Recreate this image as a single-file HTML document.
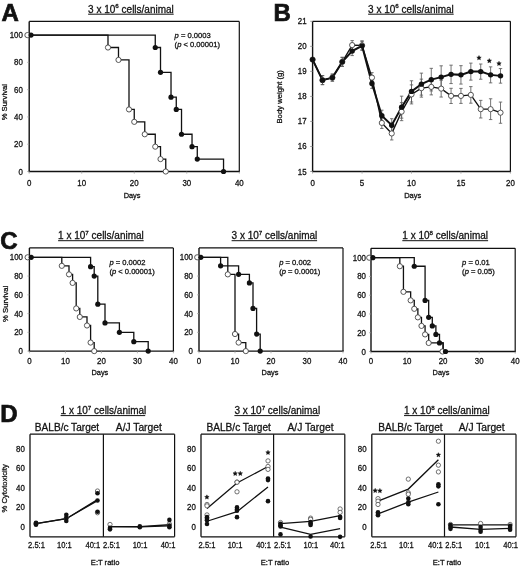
<!DOCTYPE html>
<html><head><meta charset="utf-8"><style>html,body{margin:0;padding:0;background:#fff;width:520px;height:567px;overflow:hidden}</style></head><body>
<svg width="520" height="567" viewBox="0 0 520 567" style="display:block;will-change:transform">
<rect width="520" height="567" fill="#fff"/>
<g font-family='"Liberation Sans", sans-serif' fill="#111">
<style>text{stroke:#111;stroke-width:0.28px;paint-order:stroke}</style>
<text x="1.50" y="20.60" font-size="24" font-weight="bold" style="stroke-width:0.7px">A</text>
<text x="88.10" y="12.80" font-size="10">3 x 10<tspan font-size="6.20" dy="-4.4">6</tspan><tspan dy="4.4"> cells/animal</tspan></text>
<line x1="88.10" y1="14.20" x2="173.70" y2="14.20" stroke="#111" stroke-width="1.0" />
<polyline points="29.20,35.10 107.99,35.10 107.99,47.51 118.49,47.51 118.49,59.92 129.00,59.92 129.00,109.44 134.25,109.44 134.25,121.85 144.76,121.85 144.76,134.26 155.26,134.26 155.26,146.68 160.51,146.68 160.51,159.09 165.76,159.09 165.76,171.50" fill="none" stroke="#111" stroke-width="1.3" stroke-linejoin="miter"/>
<polyline points="29.20,35.10 155.26,35.10 155.26,47.51 160.51,47.51 160.51,72.34 171.02,72.34 171.02,97.16 176.27,97.16 176.27,109.44 181.52,109.44 181.52,134.26 192.03,134.26 192.03,146.68 197.28,146.68 197.28,159.09 223.54,159.09 223.54,171.50" fill="none" stroke="#111" stroke-width="1.3" stroke-linejoin="miter"/>
<line x1="29.20" y1="21.46" x2="29.20" y2="171.50" stroke="#111" stroke-width="1.4" />
<line x1="28.50" y1="171.50" x2="240.00" y2="171.50" stroke="#111" stroke-width="1.4" />
<line x1="29.20" y1="21.46" x2="239.30" y2="21.46" stroke="#111" stroke-width="1.2" />
<line x1="239.30" y1="21.46" x2="239.30" y2="171.50" stroke="#111" stroke-width="1.2" />
<line x1="27.20" y1="171.50" x2="29.20" y2="171.50" stroke="#999" stroke-width="0.7" />
<text transform="translate(22.80,174.50) scale(0.93,1)" font-size="8.5" text-anchor="end">0</text>
<line x1="27.20" y1="144.22" x2="29.20" y2="144.22" stroke="#999" stroke-width="0.7" />
<text transform="translate(22.80,147.22) scale(0.93,1)" font-size="8.5" text-anchor="end">20</text>
<line x1="27.20" y1="116.94" x2="29.20" y2="116.94" stroke="#999" stroke-width="0.7" />
<text transform="translate(22.80,119.94) scale(0.93,1)" font-size="8.5" text-anchor="end">40</text>
<line x1="27.20" y1="89.66" x2="29.20" y2="89.66" stroke="#999" stroke-width="0.7" />
<text transform="translate(22.80,92.66) scale(0.93,1)" font-size="8.5" text-anchor="end">60</text>
<line x1="27.20" y1="62.38" x2="29.20" y2="62.38" stroke="#999" stroke-width="0.7" />
<text transform="translate(22.80,65.38) scale(0.93,1)" font-size="8.5" text-anchor="end">80</text>
<line x1="27.20" y1="35.10" x2="29.20" y2="35.10" stroke="#999" stroke-width="0.7" />
<text transform="translate(22.80,38.10) scale(0.93,1)" font-size="8.5" text-anchor="end">100</text>
<line x1="29.20" y1="171.50" x2="29.20" y2="173.70" stroke="#999" stroke-width="0.7" />
<text transform="translate(29.20,185.60) scale(0.93,1)" font-size="8.5" text-anchor="middle">0</text>
<line x1="81.72" y1="171.50" x2="81.72" y2="173.70" stroke="#999" stroke-width="0.7" />
<text transform="translate(81.72,185.60) scale(0.93,1)" font-size="8.5" text-anchor="middle">10</text>
<line x1="134.25" y1="171.50" x2="134.25" y2="173.70" stroke="#999" stroke-width="0.7" />
<text transform="translate(134.25,185.60) scale(0.93,1)" font-size="8.5" text-anchor="middle">20</text>
<line x1="186.78" y1="171.50" x2="186.78" y2="173.70" stroke="#999" stroke-width="0.7" />
<text transform="translate(186.78,185.60) scale(0.93,1)" font-size="8.5" text-anchor="middle">30</text>
<line x1="239.30" y1="171.50" x2="239.30" y2="173.70" stroke="#999" stroke-width="0.7" />
<text transform="translate(239.30,185.60) scale(0.93,1)" font-size="8.5" text-anchor="middle">40</text>
<circle cx="27.40" cy="35.10" r="2.6" fill="#fff" stroke="#444" stroke-width="0.9"/>
<circle cx="107.99" cy="47.51" r="2.6" fill="#fff" stroke="#444" stroke-width="0.9"/>
<circle cx="118.49" cy="59.92" r="2.6" fill="#fff" stroke="#444" stroke-width="0.9"/>
<circle cx="129.00" cy="109.44" r="2.6" fill="#fff" stroke="#444" stroke-width="0.9"/>
<circle cx="134.25" cy="121.85" r="2.6" fill="#fff" stroke="#444" stroke-width="0.9"/>
<circle cx="144.76" cy="134.26" r="2.6" fill="#fff" stroke="#444" stroke-width="0.9"/>
<circle cx="155.26" cy="146.68" r="2.6" fill="#fff" stroke="#444" stroke-width="0.9"/>
<circle cx="160.51" cy="159.09" r="2.6" fill="#fff" stroke="#444" stroke-width="0.9"/>
<circle cx="165.76" cy="171.50" r="2.6" fill="#fff" stroke="#444" stroke-width="0.9"/>
<circle cx="31.00" cy="35.10" r="2.6" fill="#111"/>
<circle cx="155.26" cy="47.51" r="2.6" fill="#111"/>
<circle cx="160.51" cy="72.34" r="2.6" fill="#111"/>
<circle cx="171.02" cy="97.16" r="2.6" fill="#111"/>
<circle cx="176.27" cy="109.44" r="2.6" fill="#111"/>
<circle cx="181.52" cy="134.26" r="2.6" fill="#111"/>
<circle cx="192.03" cy="146.68" r="2.6" fill="#111"/>
<circle cx="197.28" cy="159.09" r="2.6" fill="#111"/>
<circle cx="223.54" cy="171.50" r="2.6" fill="#111"/>
<text x="174.6" y="38.3" font-size="7.6"><tspan font-style="italic">p</tspan> = 0.0003</text>
<text x="174.6" y="47.099999999999994" font-size="7.6">(<tspan font-style="italic">p</tspan> &lt; 0.00001)</text>
<text x="132.10" y="197.60" font-size="7.4" text-anchor="middle" font-weight="normal" >Days</text>
<text x="0" y="0" font-size="7.7" text-anchor="middle" transform="translate(6.90,102.20) rotate(-90)">% Survival</text>
<text x="273.50" y="20.60" font-size="24" font-weight="bold" style="stroke-width:0.7px">B</text>
<text x="368.10" y="12.80" font-size="10">3 x 10<tspan font-size="6.20" dy="-4.4">6</tspan><tspan dy="4.4"> cells/animal</tspan></text>
<line x1="368.10" y1="14.20" x2="453.70" y2="14.20" stroke="#111" stroke-width="1.0" />
<line x1="322.49" y1="75.63" x2="322.49" y2="84.63" stroke="#5c5c5c" stroke-width="0.85" />
<line x1="320.79" y1="75.63" x2="324.19" y2="75.63" stroke="#5c5c5c" stroke-width="0.85" />
<line x1="320.79" y1="84.63" x2="324.19" y2="84.63" stroke="#5c5c5c" stroke-width="0.85" />
<line x1="322.49" y1="75.63" x2="322.49" y2="84.63" stroke="#5c5c5c" stroke-width="0.85" />
<line x1="320.79" y1="75.63" x2="324.19" y2="75.63" stroke="#5c5c5c" stroke-width="0.85" />
<line x1="320.79" y1="84.63" x2="324.19" y2="84.63" stroke="#5c5c5c" stroke-width="0.85" />
<line x1="332.38" y1="74.12" x2="332.38" y2="81.12" stroke="#5c5c5c" stroke-width="0.85" />
<line x1="330.68" y1="74.12" x2="334.08" y2="74.12" stroke="#5c5c5c" stroke-width="0.85" />
<line x1="330.68" y1="81.12" x2="334.08" y2="81.12" stroke="#5c5c5c" stroke-width="0.85" />
<line x1="332.38" y1="74.12" x2="332.38" y2="81.12" stroke="#5c5c5c" stroke-width="0.85" />
<line x1="330.68" y1="74.12" x2="334.08" y2="74.12" stroke="#5c5c5c" stroke-width="0.85" />
<line x1="330.68" y1="81.12" x2="334.08" y2="81.12" stroke="#5c5c5c" stroke-width="0.85" />
<line x1="342.27" y1="57.35" x2="342.27" y2="66.35" stroke="#5c5c5c" stroke-width="0.85" />
<line x1="340.57" y1="57.35" x2="343.97" y2="57.35" stroke="#5c5c5c" stroke-width="0.85" />
<line x1="340.57" y1="66.35" x2="343.97" y2="66.35" stroke="#5c5c5c" stroke-width="0.85" />
<line x1="342.27" y1="57.35" x2="342.27" y2="66.35" stroke="#5c5c5c" stroke-width="0.85" />
<line x1="340.57" y1="57.35" x2="343.97" y2="57.35" stroke="#5c5c5c" stroke-width="0.85" />
<line x1="340.57" y1="66.35" x2="343.97" y2="66.35" stroke="#5c5c5c" stroke-width="0.85" />
<line x1="352.16" y1="40.58" x2="352.16" y2="49.58" stroke="#5c5c5c" stroke-width="0.85" />
<line x1="350.46" y1="40.58" x2="353.86" y2="40.58" stroke="#5c5c5c" stroke-width="0.85" />
<line x1="350.46" y1="49.58" x2="353.86" y2="49.58" stroke="#5c5c5c" stroke-width="0.85" />
<line x1="352.16" y1="46.59" x2="352.16" y2="55.59" stroke="#5c5c5c" stroke-width="0.85" />
<line x1="350.46" y1="46.59" x2="353.86" y2="46.59" stroke="#5c5c5c" stroke-width="0.85" />
<line x1="350.46" y1="55.59" x2="353.86" y2="55.59" stroke="#5c5c5c" stroke-width="0.85" />
<line x1="362.05" y1="40.83" x2="362.05" y2="49.83" stroke="#5c5c5c" stroke-width="0.85" />
<line x1="360.35" y1="40.83" x2="363.75" y2="40.83" stroke="#5c5c5c" stroke-width="0.85" />
<line x1="360.35" y1="49.83" x2="363.75" y2="49.83" stroke="#5c5c5c" stroke-width="0.85" />
<line x1="362.05" y1="41.33" x2="362.05" y2="50.33" stroke="#5c5c5c" stroke-width="0.85" />
<line x1="360.35" y1="41.33" x2="363.75" y2="41.33" stroke="#5c5c5c" stroke-width="0.85" />
<line x1="360.35" y1="50.33" x2="363.75" y2="50.33" stroke="#5c5c5c" stroke-width="0.85" />
<line x1="371.94" y1="72.62" x2="371.94" y2="82.62" stroke="#5c5c5c" stroke-width="0.85" />
<line x1="370.24" y1="72.62" x2="373.64" y2="72.62" stroke="#5c5c5c" stroke-width="0.85" />
<line x1="370.24" y1="82.62" x2="373.64" y2="82.62" stroke="#5c5c5c" stroke-width="0.85" />
<line x1="371.94" y1="78.38" x2="371.94" y2="88.38" stroke="#5c5c5c" stroke-width="0.85" />
<line x1="370.24" y1="78.38" x2="373.64" y2="78.38" stroke="#5c5c5c" stroke-width="0.85" />
<line x1="370.24" y1="88.38" x2="373.64" y2="88.38" stroke="#5c5c5c" stroke-width="0.85" />
<line x1="381.83" y1="117.44" x2="381.83" y2="128.44" stroke="#5c5c5c" stroke-width="0.85" />
<line x1="380.13" y1="117.44" x2="383.53" y2="117.44" stroke="#5c5c5c" stroke-width="0.85" />
<line x1="380.13" y1="128.44" x2="383.53" y2="128.44" stroke="#5c5c5c" stroke-width="0.85" />
<line x1="381.83" y1="110.18" x2="381.83" y2="121.18" stroke="#5c5c5c" stroke-width="0.85" />
<line x1="380.13" y1="110.18" x2="383.53" y2="110.18" stroke="#5c5c5c" stroke-width="0.85" />
<line x1="380.13" y1="121.18" x2="383.53" y2="121.18" stroke="#5c5c5c" stroke-width="0.85" />
<line x1="391.72" y1="126.95" x2="391.72" y2="139.95" stroke="#5c5c5c" stroke-width="0.85" />
<line x1="390.02" y1="126.95" x2="393.42" y2="126.95" stroke="#5c5c5c" stroke-width="0.85" />
<line x1="390.02" y1="139.95" x2="393.42" y2="139.95" stroke="#5c5c5c" stroke-width="0.85" />
<line x1="391.72" y1="118.69" x2="391.72" y2="131.69" stroke="#5c5c5c" stroke-width="0.85" />
<line x1="390.02" y1="118.69" x2="393.42" y2="118.69" stroke="#5c5c5c" stroke-width="0.85" />
<line x1="390.02" y1="131.69" x2="393.42" y2="131.69" stroke="#5c5c5c" stroke-width="0.85" />
<line x1="401.61" y1="102.67" x2="401.61" y2="120.67" stroke="#5c5c5c" stroke-width="0.85" />
<line x1="399.91" y1="102.67" x2="403.31" y2="102.67" stroke="#5c5c5c" stroke-width="0.85" />
<line x1="399.91" y1="120.67" x2="403.31" y2="120.67" stroke="#5c5c5c" stroke-width="0.85" />
<line x1="401.61" y1="96.16" x2="401.61" y2="118.16" stroke="#5c5c5c" stroke-width="0.85" />
<line x1="399.91" y1="96.16" x2="403.31" y2="96.16" stroke="#5c5c5c" stroke-width="0.85" />
<line x1="399.91" y1="118.16" x2="403.31" y2="118.16" stroke="#5c5c5c" stroke-width="0.85" />
<line x1="411.50" y1="84.90" x2="411.50" y2="103.90" stroke="#5c5c5c" stroke-width="0.85" />
<line x1="409.80" y1="84.90" x2="413.20" y2="84.90" stroke="#5c5c5c" stroke-width="0.85" />
<line x1="409.80" y1="103.90" x2="413.20" y2="103.90" stroke="#5c5c5c" stroke-width="0.85" />
<line x1="411.50" y1="80.79" x2="411.50" y2="101.99" stroke="#5c5c5c" stroke-width="0.85" />
<line x1="409.80" y1="80.79" x2="413.20" y2="80.79" stroke="#5c5c5c" stroke-width="0.85" />
<line x1="409.80" y1="101.99" x2="413.20" y2="101.99" stroke="#5c5c5c" stroke-width="0.85" />
<line x1="421.39" y1="79.14" x2="421.39" y2="97.14" stroke="#5c5c5c" stroke-width="0.85" />
<line x1="419.69" y1="79.14" x2="423.09" y2="79.14" stroke="#5c5c5c" stroke-width="0.85" />
<line x1="419.69" y1="97.14" x2="423.09" y2="97.14" stroke="#5c5c5c" stroke-width="0.85" />
<line x1="421.39" y1="73.13" x2="421.39" y2="95.13" stroke="#5c5c5c" stroke-width="0.85" />
<line x1="419.69" y1="73.13" x2="423.09" y2="73.13" stroke="#5c5c5c" stroke-width="0.85" />
<line x1="419.69" y1="95.13" x2="423.09" y2="95.13" stroke="#5c5c5c" stroke-width="0.85" />
<line x1="431.28" y1="78.89" x2="431.28" y2="94.89" stroke="#5c5c5c" stroke-width="0.85" />
<line x1="429.58" y1="78.89" x2="432.98" y2="78.89" stroke="#5c5c5c" stroke-width="0.85" />
<line x1="429.58" y1="94.89" x2="432.98" y2="94.89" stroke="#5c5c5c" stroke-width="0.85" />
<line x1="431.28" y1="68.33" x2="431.28" y2="90.93" stroke="#5c5c5c" stroke-width="0.85" />
<line x1="429.58" y1="68.33" x2="432.98" y2="68.33" stroke="#5c5c5c" stroke-width="0.85" />
<line x1="429.58" y1="90.93" x2="432.98" y2="90.93" stroke="#5c5c5c" stroke-width="0.85" />
<line x1="441.17" y1="80.24" x2="441.17" y2="97.04" stroke="#5c5c5c" stroke-width="0.85" />
<line x1="439.47" y1="80.24" x2="442.87" y2="80.24" stroke="#5c5c5c" stroke-width="0.85" />
<line x1="439.47" y1="97.04" x2="442.87" y2="97.04" stroke="#5c5c5c" stroke-width="0.85" />
<line x1="441.17" y1="65.82" x2="441.17" y2="88.42" stroke="#5c5c5c" stroke-width="0.85" />
<line x1="439.47" y1="65.82" x2="442.87" y2="65.82" stroke="#5c5c5c" stroke-width="0.85" />
<line x1="439.47" y1="88.42" x2="442.87" y2="88.42" stroke="#5c5c5c" stroke-width="0.85" />
<line x1="451.06" y1="88.30" x2="451.06" y2="103.50" stroke="#5c5c5c" stroke-width="0.85" />
<line x1="449.36" y1="88.30" x2="452.76" y2="88.30" stroke="#5c5c5c" stroke-width="0.85" />
<line x1="449.36" y1="103.50" x2="452.76" y2="103.50" stroke="#5c5c5c" stroke-width="0.85" />
<line x1="451.06" y1="65.17" x2="451.06" y2="83.57" stroke="#5c5c5c" stroke-width="0.85" />
<line x1="449.36" y1="65.17" x2="452.76" y2="65.17" stroke="#5c5c5c" stroke-width="0.85" />
<line x1="449.36" y1="83.57" x2="452.76" y2="83.57" stroke="#5c5c5c" stroke-width="0.85" />
<line x1="460.95" y1="88.40" x2="460.95" y2="103.40" stroke="#5c5c5c" stroke-width="0.85" />
<line x1="459.25" y1="88.40" x2="462.65" y2="88.40" stroke="#5c5c5c" stroke-width="0.85" />
<line x1="459.25" y1="103.40" x2="462.65" y2="103.40" stroke="#5c5c5c" stroke-width="0.85" />
<line x1="460.95" y1="65.67" x2="460.95" y2="84.07" stroke="#5c5c5c" stroke-width="0.85" />
<line x1="459.25" y1="65.67" x2="462.65" y2="65.67" stroke="#5c5c5c" stroke-width="0.85" />
<line x1="459.25" y1="84.07" x2="462.65" y2="84.07" stroke="#5c5c5c" stroke-width="0.85" />
<line x1="470.84" y1="86.60" x2="470.84" y2="103.20" stroke="#5c5c5c" stroke-width="0.85" />
<line x1="469.14" y1="86.60" x2="472.54" y2="86.60" stroke="#5c5c5c" stroke-width="0.85" />
<line x1="469.14" y1="103.20" x2="472.54" y2="103.20" stroke="#5c5c5c" stroke-width="0.85" />
<line x1="470.84" y1="63.12" x2="470.84" y2="80.12" stroke="#5c5c5c" stroke-width="0.85" />
<line x1="469.14" y1="63.12" x2="472.54" y2="63.12" stroke="#5c5c5c" stroke-width="0.85" />
<line x1="469.14" y1="80.12" x2="472.54" y2="80.12" stroke="#5c5c5c" stroke-width="0.85" />
<line x1="480.73" y1="100.37" x2="480.73" y2="117.97" stroke="#5c5c5c" stroke-width="0.85" />
<line x1="479.03" y1="100.37" x2="482.43" y2="100.37" stroke="#5c5c5c" stroke-width="0.85" />
<line x1="479.03" y1="117.97" x2="482.43" y2="117.97" stroke="#5c5c5c" stroke-width="0.85" />
<line x1="480.73" y1="64.02" x2="480.73" y2="79.22" stroke="#5c5c5c" stroke-width="0.85" />
<line x1="479.03" y1="64.02" x2="482.43" y2="64.02" stroke="#5c5c5c" stroke-width="0.85" />
<line x1="479.03" y1="79.22" x2="482.43" y2="79.22" stroke="#5c5c5c" stroke-width="0.85" />
<line x1="490.62" y1="98.77" x2="490.62" y2="119.57" stroke="#5c5c5c" stroke-width="0.85" />
<line x1="488.92" y1="98.77" x2="492.32" y2="98.77" stroke="#5c5c5c" stroke-width="0.85" />
<line x1="488.92" y1="119.57" x2="492.32" y2="119.57" stroke="#5c5c5c" stroke-width="0.85" />
<line x1="490.62" y1="66.87" x2="490.62" y2="82.87" stroke="#5c5c5c" stroke-width="0.85" />
<line x1="488.92" y1="66.87" x2="492.32" y2="66.87" stroke="#5c5c5c" stroke-width="0.85" />
<line x1="488.92" y1="82.87" x2="492.32" y2="82.87" stroke="#5c5c5c" stroke-width="0.85" />
<line x1="500.51" y1="102.07" x2="500.51" y2="123.27" stroke="#5c5c5c" stroke-width="0.85" />
<line x1="498.81" y1="102.07" x2="502.21" y2="102.07" stroke="#5c5c5c" stroke-width="0.85" />
<line x1="498.81" y1="123.27" x2="502.21" y2="123.27" stroke="#5c5c5c" stroke-width="0.85" />
<line x1="500.51" y1="68.57" x2="500.51" y2="83.17" stroke="#5c5c5c" stroke-width="0.85" />
<line x1="498.81" y1="68.57" x2="502.21" y2="68.57" stroke="#5c5c5c" stroke-width="0.85" />
<line x1="498.81" y1="83.17" x2="502.21" y2="83.17" stroke="#5c5c5c" stroke-width="0.85" />
<polyline points="312.60,59.60 322.49,80.13 332.38,77.62 342.27,61.85 352.16,45.08 362.05,45.33 371.94,77.62 381.83,122.94 391.72,133.45 401.61,111.67 411.50,94.40 421.39,88.14 431.28,86.89 441.17,88.64 451.06,95.90 460.95,95.90 470.84,94.90 480.73,109.17 490.62,109.17 500.51,112.67" fill="none" stroke="#111" stroke-width="1.35" stroke-linejoin="miter"/>
<polyline points="312.60,59.60 322.49,80.13 332.38,77.62 342.27,61.85 352.16,51.09 362.05,45.83 371.94,83.38 381.83,115.68 391.72,125.19 401.61,107.16 411.50,91.39 421.39,84.13 431.28,79.63 441.17,77.12 451.06,74.37 460.95,74.87 470.84,71.62 480.73,71.62 490.62,74.87 500.51,75.87" fill="none" stroke="#111" stroke-width="2.0" stroke-linejoin="miter"/>
<circle cx="312.60" cy="59.60" r="2.6" fill="#fff" stroke="#444" stroke-width="0.9"/>
<circle cx="322.49" cy="80.13" r="2.6" fill="#fff" stroke="#444" stroke-width="0.9"/>
<circle cx="332.38" cy="77.62" r="2.6" fill="#fff" stroke="#444" stroke-width="0.9"/>
<circle cx="342.27" cy="61.85" r="2.6" fill="#fff" stroke="#444" stroke-width="0.9"/>
<circle cx="352.16" cy="45.08" r="2.6" fill="#fff" stroke="#444" stroke-width="0.9"/>
<circle cx="362.05" cy="45.33" r="2.6" fill="#fff" stroke="#444" stroke-width="0.9"/>
<circle cx="371.94" cy="77.62" r="2.6" fill="#fff" stroke="#444" stroke-width="0.9"/>
<circle cx="381.83" cy="122.94" r="2.6" fill="#fff" stroke="#444" stroke-width="0.9"/>
<circle cx="391.72" cy="133.45" r="2.6" fill="#fff" stroke="#444" stroke-width="0.9"/>
<circle cx="401.61" cy="111.67" r="2.6" fill="#fff" stroke="#444" stroke-width="0.9"/>
<circle cx="411.50" cy="94.40" r="2.6" fill="#fff" stroke="#444" stroke-width="0.9"/>
<circle cx="421.39" cy="88.14" r="2.6" fill="#fff" stroke="#444" stroke-width="0.9"/>
<circle cx="431.28" cy="86.89" r="2.6" fill="#fff" stroke="#444" stroke-width="0.9"/>
<circle cx="441.17" cy="88.64" r="2.6" fill="#fff" stroke="#444" stroke-width="0.9"/>
<circle cx="451.06" cy="95.90" r="2.6" fill="#fff" stroke="#444" stroke-width="0.9"/>
<circle cx="460.95" cy="95.90" r="2.6" fill="#fff" stroke="#444" stroke-width="0.9"/>
<circle cx="470.84" cy="94.90" r="2.6" fill="#fff" stroke="#444" stroke-width="0.9"/>
<circle cx="480.73" cy="109.17" r="2.6" fill="#fff" stroke="#444" stroke-width="0.9"/>
<circle cx="490.62" cy="109.17" r="2.6" fill="#fff" stroke="#444" stroke-width="0.9"/>
<circle cx="500.51" cy="112.67" r="2.6" fill="#fff" stroke="#444" stroke-width="0.9"/>
<circle cx="312.60" cy="59.60" r="2.7" fill="#111"/>
<circle cx="322.49" cy="80.13" r="2.7" fill="#111"/>
<circle cx="332.38" cy="77.62" r="2.7" fill="#111"/>
<circle cx="342.27" cy="61.85" r="2.7" fill="#111"/>
<circle cx="352.16" cy="51.09" r="2.7" fill="#111"/>
<circle cx="362.05" cy="45.83" r="2.7" fill="#111"/>
<circle cx="371.94" cy="83.38" r="2.7" fill="#111"/>
<circle cx="381.83" cy="115.68" r="2.7" fill="#111"/>
<circle cx="391.72" cy="125.19" r="2.7" fill="#111"/>
<circle cx="401.61" cy="107.16" r="2.7" fill="#111"/>
<circle cx="411.50" cy="91.39" r="2.7" fill="#111"/>
<circle cx="421.39" cy="84.13" r="2.7" fill="#111"/>
<circle cx="431.28" cy="79.63" r="2.7" fill="#111"/>
<circle cx="441.17" cy="77.12" r="2.7" fill="#111"/>
<circle cx="451.06" cy="74.37" r="2.7" fill="#111"/>
<circle cx="460.95" cy="74.87" r="2.7" fill="#111"/>
<circle cx="470.84" cy="71.62" r="2.7" fill="#111"/>
<circle cx="480.73" cy="71.62" r="2.7" fill="#111"/>
<circle cx="490.62" cy="74.87" r="2.7" fill="#111"/>
<circle cx="500.51" cy="75.87" r="2.7" fill="#111"/>
<line x1="312.60" y1="21.30" x2="312.60" y2="171.50" stroke="#111" stroke-width="1.4" />
<line x1="311.90" y1="171.50" x2="511.10" y2="171.50" stroke="#111" stroke-width="1.4" />
<line x1="312.60" y1="21.30" x2="510.40" y2="21.30" stroke="#111" stroke-width="1.2" />
<line x1="510.40" y1="21.30" x2="510.40" y2="171.50" stroke="#111" stroke-width="1.2" />
<line x1="310.20" y1="171.50" x2="312.60" y2="171.50" stroke="#888" stroke-width="0.8" />
<text transform="translate(306.60,174.50) scale(0.93,1)" font-size="8.5" text-anchor="end">15</text>
<line x1="310.20" y1="146.47" x2="312.60" y2="146.47" stroke="#888" stroke-width="0.8" />
<text transform="translate(306.60,149.47) scale(0.93,1)" font-size="8.5" text-anchor="end">16</text>
<line x1="310.20" y1="121.43" x2="312.60" y2="121.43" stroke="#888" stroke-width="0.8" />
<text transform="translate(306.60,124.43) scale(0.93,1)" font-size="8.5" text-anchor="end">17</text>
<line x1="310.20" y1="96.40" x2="312.60" y2="96.40" stroke="#888" stroke-width="0.8" />
<text transform="translate(306.60,99.40) scale(0.93,1)" font-size="8.5" text-anchor="end">18</text>
<line x1="310.20" y1="71.37" x2="312.60" y2="71.37" stroke="#888" stroke-width="0.8" />
<text transform="translate(306.60,74.37) scale(0.93,1)" font-size="8.5" text-anchor="end">19</text>
<line x1="310.20" y1="46.33" x2="312.60" y2="46.33" stroke="#888" stroke-width="0.8" />
<text transform="translate(306.60,49.33) scale(0.93,1)" font-size="8.5" text-anchor="end">20</text>
<line x1="310.20" y1="21.30" x2="312.60" y2="21.30" stroke="#888" stroke-width="0.8" />
<text transform="translate(306.60,24.30) scale(0.93,1)" font-size="8.5" text-anchor="end">21</text>
<line x1="312.60" y1="171.50" x2="312.60" y2="173.70" stroke="#999" stroke-width="0.7" />
<text transform="translate(312.60,185.60) scale(0.93,1)" font-size="8.5" text-anchor="middle">0</text>
<line x1="362.05" y1="171.50" x2="362.05" y2="173.70" stroke="#999" stroke-width="0.7" />
<text transform="translate(362.05,185.60) scale(0.93,1)" font-size="8.5" text-anchor="middle">5</text>
<line x1="411.50" y1="171.50" x2="411.50" y2="173.70" stroke="#999" stroke-width="0.7" />
<text transform="translate(411.50,185.60) scale(0.93,1)" font-size="8.5" text-anchor="middle">10</text>
<line x1="460.95" y1="171.50" x2="460.95" y2="173.70" stroke="#999" stroke-width="0.7" />
<text transform="translate(460.95,185.60) scale(0.93,1)" font-size="8.5" text-anchor="middle">15</text>
<line x1="510.40" y1="171.50" x2="510.40" y2="173.70" stroke="#999" stroke-width="0.7" />
<text transform="translate(510.40,185.60) scale(0.93,1)" font-size="8.5" text-anchor="middle">20</text>
<text x="412.70" y="197.80" font-size="7.5" text-anchor="middle" font-weight="normal" >Days</text>
<text x="0" y="0" font-size="7.7" text-anchor="middle" transform="translate(282.20,96.80) rotate(-90)">Body weight (g)</text>
<polygon points="479.00,55.55 479.65,57.01 481.23,57.17 480.05,58.24 480.38,59.80 479.00,59.00 477.62,59.80 477.95,58.24 476.77,57.17 478.35,57.01" fill="#111" stroke="#111" stroke-width="0.45"/>
<polygon points="489.30,58.55 489.95,60.01 491.53,60.17 490.35,61.24 490.68,62.80 489.30,62.00 487.92,62.80 488.25,61.24 487.07,60.17 488.65,60.01" fill="#111" stroke="#111" stroke-width="0.45"/>
<polygon points="499.00,61.25 499.65,62.71 501.23,62.87 500.05,63.94 500.38,65.50 499.00,64.70 497.62,65.50 497.95,63.94 496.77,62.87 498.35,62.71" fill="#111" stroke="#111" stroke-width="0.45"/>
<text x="0.30" y="248.50" font-size="24" font-weight="bold" style="stroke-width:0.7px">C</text>
<text x="58.10" y="239.20" font-size="10">1 x 10<tspan font-size="6.20" dy="-4.4">7</tspan><tspan dy="4.4"> cells/animal</tspan></text>
<line x1="58.10" y1="240.70" x2="143.70" y2="240.70" stroke="#111" stroke-width="1.0" />
<polyline points="29.40,257.30 61.80,257.30 61.80,265.84 69.00,265.84 69.00,274.37 72.60,274.37 72.60,282.91 76.20,282.91 76.20,308.42 79.80,308.42 79.80,316.96 87.00,316.96 87.00,325.49 90.60,325.49 90.60,342.56 94.20,342.56 94.20,351.10" fill="none" stroke="#111" stroke-width="1.3" stroke-linejoin="miter"/>
<polyline points="29.40,257.30 90.60,257.30 90.60,266.68 94.20,266.68 94.20,276.06 97.80,276.06 97.80,304.20 105.00,304.20 105.00,322.96 119.40,322.96 119.40,332.34 133.80,332.34 133.80,341.72 148.20,341.72 148.20,351.10" fill="none" stroke="#111" stroke-width="1.3" stroke-linejoin="miter"/>
<line x1="29.40" y1="247.92" x2="29.40" y2="351.10" stroke="#111" stroke-width="1.4" />
<line x1="28.70" y1="351.10" x2="174.10" y2="351.10" stroke="#111" stroke-width="1.4" />
<line x1="29.40" y1="247.92" x2="173.40" y2="247.92" stroke="#111" stroke-width="1.2" />
<line x1="173.40" y1="247.92" x2="173.40" y2="351.10" stroke="#111" stroke-width="1.2" />
<line x1="27.40" y1="351.10" x2="29.40" y2="351.10" stroke="#999" stroke-width="0.7" />
<text transform="translate(23.00,354.10) scale(0.93,1)" font-size="8.5" text-anchor="end">0</text>
<line x1="27.40" y1="332.34" x2="29.40" y2="332.34" stroke="#999" stroke-width="0.7" />
<text transform="translate(23.00,335.34) scale(0.93,1)" font-size="8.5" text-anchor="end">20</text>
<line x1="27.40" y1="313.58" x2="29.40" y2="313.58" stroke="#999" stroke-width="0.7" />
<text transform="translate(23.00,316.58) scale(0.93,1)" font-size="8.5" text-anchor="end">40</text>
<line x1="27.40" y1="294.82" x2="29.40" y2="294.82" stroke="#999" stroke-width="0.7" />
<text transform="translate(23.00,297.82) scale(0.93,1)" font-size="8.5" text-anchor="end">60</text>
<line x1="27.40" y1="276.06" x2="29.40" y2="276.06" stroke="#999" stroke-width="0.7" />
<text transform="translate(23.00,279.06) scale(0.93,1)" font-size="8.5" text-anchor="end">80</text>
<line x1="27.40" y1="257.30" x2="29.40" y2="257.30" stroke="#999" stroke-width="0.7" />
<text transform="translate(23.00,260.30) scale(0.93,1)" font-size="8.5" text-anchor="end">100</text>
<line x1="29.40" y1="351.10" x2="29.40" y2="353.30" stroke="#999" stroke-width="0.7" />
<text transform="translate(29.40,364.20) scale(0.93,1)" font-size="8.5" text-anchor="middle">0</text>
<line x1="65.40" y1="351.10" x2="65.40" y2="353.30" stroke="#999" stroke-width="0.7" />
<text transform="translate(65.40,364.20) scale(0.93,1)" font-size="8.5" text-anchor="middle">10</text>
<line x1="101.40" y1="351.10" x2="101.40" y2="353.30" stroke="#999" stroke-width="0.7" />
<text transform="translate(101.40,364.20) scale(0.93,1)" font-size="8.5" text-anchor="middle">20</text>
<line x1="137.40" y1="351.10" x2="137.40" y2="353.30" stroke="#999" stroke-width="0.7" />
<text transform="translate(137.40,364.20) scale(0.93,1)" font-size="8.5" text-anchor="middle">30</text>
<line x1="173.40" y1="351.10" x2="173.40" y2="353.30" stroke="#999" stroke-width="0.7" />
<text transform="translate(173.40,364.20) scale(0.93,1)" font-size="8.5" text-anchor="middle">40</text>
<circle cx="27.60" cy="257.30" r="2.6" fill="#fff" stroke="#444" stroke-width="0.9"/>
<circle cx="61.80" cy="265.84" r="2.6" fill="#fff" stroke="#444" stroke-width="0.9"/>
<circle cx="69.00" cy="274.37" r="2.6" fill="#fff" stroke="#444" stroke-width="0.9"/>
<circle cx="72.60" cy="282.91" r="2.6" fill="#fff" stroke="#444" stroke-width="0.9"/>
<circle cx="76.20" cy="308.42" r="2.6" fill="#fff" stroke="#444" stroke-width="0.9"/>
<circle cx="79.80" cy="316.96" r="2.6" fill="#fff" stroke="#444" stroke-width="0.9"/>
<circle cx="87.00" cy="325.49" r="2.6" fill="#fff" stroke="#444" stroke-width="0.9"/>
<circle cx="90.60" cy="342.56" r="2.6" fill="#fff" stroke="#444" stroke-width="0.9"/>
<circle cx="94.20" cy="351.10" r="2.6" fill="#fff" stroke="#444" stroke-width="0.9"/>
<circle cx="31.20" cy="257.30" r="2.6" fill="#111"/>
<circle cx="90.60" cy="266.68" r="2.6" fill="#111"/>
<circle cx="94.20" cy="276.06" r="2.6" fill="#111"/>
<circle cx="97.80" cy="304.20" r="2.6" fill="#111"/>
<circle cx="105.00" cy="322.96" r="2.6" fill="#111"/>
<circle cx="119.40" cy="332.34" r="2.6" fill="#111"/>
<circle cx="133.80" cy="341.72" r="2.6" fill="#111"/>
<circle cx="148.20" cy="351.10" r="2.6" fill="#111"/>
<text x="109.4" y="265.3" font-size="7.6"><tspan font-style="italic">p</tspan> = 0.0002</text>
<text x="109.4" y="274.1" font-size="7.6">(<tspan font-style="italic">p</tspan> &lt; 0.00001)</text>
<text x="99.90" y="374.60" font-size="7.4" text-anchor="middle" font-weight="normal" >Days</text>
<text x="0" y="0" font-size="7.7" text-anchor="middle" transform="translate(7.70,303.80) rotate(-90)">% Survival</text>
<text x="231.60" y="239.20" font-size="10">3 x 10<tspan font-size="6.20" dy="-4.4">7</tspan><tspan dy="4.4"> cells/animal</tspan></text>
<line x1="231.60" y1="240.70" x2="317.10" y2="240.70" stroke="#111" stroke-width="1.0" />
<polyline points="199.00,257.30 227.80,257.30 227.80,274.37 235.00,274.37 235.00,334.03 238.60,334.03 238.60,342.56 245.80,342.56 245.80,351.10" fill="none" stroke="#111" stroke-width="1.3" stroke-linejoin="miter"/>
<polyline points="199.00,257.30 220.60,257.30 220.60,265.84 238.60,265.84 238.60,274.37 249.40,274.37 249.40,282.91 253.00,282.91 253.00,308.42 256.60,308.42 256.60,334.03 260.20,334.03 260.20,351.10" fill="none" stroke="#111" stroke-width="1.3" stroke-linejoin="miter"/>
<line x1="199.00" y1="247.92" x2="199.00" y2="351.10" stroke="#111" stroke-width="1.4" />
<line x1="198.30" y1="351.10" x2="343.70" y2="351.10" stroke="#111" stroke-width="1.4" />
<line x1="199.00" y1="247.92" x2="343.00" y2="247.92" stroke="#111" stroke-width="1.2" />
<line x1="343.00" y1="247.92" x2="343.00" y2="351.10" stroke="#111" stroke-width="1.2" />
<line x1="197.00" y1="351.10" x2="199.00" y2="351.10" stroke="#999" stroke-width="0.7" />
<text transform="translate(193.00,354.10) scale(0.93,1)" font-size="8.5" text-anchor="end">0</text>
<line x1="197.00" y1="332.34" x2="199.00" y2="332.34" stroke="#999" stroke-width="0.7" />
<text transform="translate(193.00,335.34) scale(0.93,1)" font-size="8.5" text-anchor="end">20</text>
<line x1="197.00" y1="313.58" x2="199.00" y2="313.58" stroke="#999" stroke-width="0.7" />
<text transform="translate(193.00,316.58) scale(0.93,1)" font-size="8.5" text-anchor="end">40</text>
<line x1="197.00" y1="294.82" x2="199.00" y2="294.82" stroke="#999" stroke-width="0.7" />
<text transform="translate(193.00,297.82) scale(0.93,1)" font-size="8.5" text-anchor="end">60</text>
<line x1="197.00" y1="276.06" x2="199.00" y2="276.06" stroke="#999" stroke-width="0.7" />
<text transform="translate(193.00,279.06) scale(0.93,1)" font-size="8.5" text-anchor="end">80</text>
<line x1="197.00" y1="257.30" x2="199.00" y2="257.30" stroke="#999" stroke-width="0.7" />
<text transform="translate(193.00,260.30) scale(0.93,1)" font-size="8.5" text-anchor="end">100</text>
<line x1="199.00" y1="351.10" x2="199.00" y2="353.30" stroke="#999" stroke-width="0.7" />
<text transform="translate(199.00,364.20) scale(0.93,1)" font-size="8.5" text-anchor="middle">0</text>
<line x1="235.00" y1="351.10" x2="235.00" y2="353.30" stroke="#999" stroke-width="0.7" />
<text transform="translate(235.00,364.20) scale(0.93,1)" font-size="8.5" text-anchor="middle">10</text>
<line x1="271.00" y1="351.10" x2="271.00" y2="353.30" stroke="#999" stroke-width="0.7" />
<text transform="translate(271.00,364.20) scale(0.93,1)" font-size="8.5" text-anchor="middle">20</text>
<line x1="307.00" y1="351.10" x2="307.00" y2="353.30" stroke="#999" stroke-width="0.7" />
<text transform="translate(307.00,364.20) scale(0.93,1)" font-size="8.5" text-anchor="middle">30</text>
<line x1="343.00" y1="351.10" x2="343.00" y2="353.30" stroke="#999" stroke-width="0.7" />
<text transform="translate(343.00,364.20) scale(0.93,1)" font-size="8.5" text-anchor="middle">40</text>
<circle cx="197.20" cy="257.30" r="2.6" fill="#fff" stroke="#444" stroke-width="0.9"/>
<circle cx="227.80" cy="274.37" r="2.6" fill="#fff" stroke="#444" stroke-width="0.9"/>
<circle cx="235.00" cy="334.03" r="2.6" fill="#fff" stroke="#444" stroke-width="0.9"/>
<circle cx="238.60" cy="342.56" r="2.6" fill="#fff" stroke="#444" stroke-width="0.9"/>
<circle cx="245.80" cy="351.10" r="2.6" fill="#fff" stroke="#444" stroke-width="0.9"/>
<circle cx="200.80" cy="257.30" r="2.6" fill="#111"/>
<circle cx="220.60" cy="265.84" r="2.6" fill="#111"/>
<circle cx="238.60" cy="274.37" r="2.6" fill="#111"/>
<circle cx="249.40" cy="282.91" r="2.6" fill="#111"/>
<circle cx="253.00" cy="308.42" r="2.6" fill="#111"/>
<circle cx="256.60" cy="334.03" r="2.6" fill="#111"/>
<circle cx="260.20" cy="351.10" r="2.6" fill="#111"/>
<text x="279.2" y="265.0" font-size="7.6"><tspan font-style="italic">p</tspan> = 0.002</text>
<text x="279.2" y="273.8" font-size="7.6">(<tspan font-style="italic">p</tspan> = 0.0001)</text>
<text x="270.00" y="374.60" font-size="7.4" text-anchor="middle" font-weight="normal" >Days</text>
<text x="402.30" y="239.20" font-size="10">1 x 10<tspan font-size="6.20" dy="-4.4">8</tspan><tspan dy="4.4"> cells/animal</tspan></text>
<line x1="402.30" y1="240.70" x2="488.10" y2="240.70" stroke="#111" stroke-width="1.0" />
<polyline points="371.00,257.70 399.84,257.70 399.84,266.24 403.44,266.24 403.44,291.84 410.66,291.84 410.66,300.38 414.26,300.38 414.26,308.82 417.87,308.82 417.87,317.36 421.47,317.36 421.47,325.89 425.08,325.89 425.08,334.43 428.68,334.43 428.68,342.96 443.10,342.96 443.10,351.50" fill="none" stroke="#111" stroke-width="1.3" stroke-linejoin="miter"/>
<polyline points="371.00,257.70 414.26,257.70 414.26,266.24 425.08,266.24 425.08,300.38 428.68,300.38 428.68,317.36 432.29,317.36 432.29,325.89 435.89,325.89 435.89,334.43 439.50,334.43 439.50,342.96 443.10,342.96 443.10,351.50" fill="none" stroke="#111" stroke-width="1.3" stroke-linejoin="miter"/>
<line x1="371.00" y1="248.32" x2="371.00" y2="351.50" stroke="#111" stroke-width="1.4" />
<line x1="370.30" y1="351.50" x2="515.90" y2="351.50" stroke="#111" stroke-width="1.4" />
<line x1="371.00" y1="248.32" x2="515.20" y2="248.32" stroke="#111" stroke-width="1.2" />
<line x1="515.20" y1="248.32" x2="515.20" y2="351.50" stroke="#111" stroke-width="1.2" />
<line x1="369.00" y1="351.50" x2="371.00" y2="351.50" stroke="#999" stroke-width="0.7" />
<text transform="translate(366.00,354.50) scale(0.93,1)" font-size="8.5" text-anchor="end">0</text>
<line x1="369.00" y1="332.74" x2="371.00" y2="332.74" stroke="#999" stroke-width="0.7" />
<text transform="translate(366.00,335.74) scale(0.93,1)" font-size="8.5" text-anchor="end">20</text>
<line x1="369.00" y1="313.98" x2="371.00" y2="313.98" stroke="#999" stroke-width="0.7" />
<text transform="translate(366.00,316.98) scale(0.93,1)" font-size="8.5" text-anchor="end">40</text>
<line x1="369.00" y1="295.22" x2="371.00" y2="295.22" stroke="#999" stroke-width="0.7" />
<text transform="translate(366.00,298.22) scale(0.93,1)" font-size="8.5" text-anchor="end">60</text>
<line x1="369.00" y1="276.46" x2="371.00" y2="276.46" stroke="#999" stroke-width="0.7" />
<text transform="translate(366.00,279.46) scale(0.93,1)" font-size="8.5" text-anchor="end">80</text>
<line x1="369.00" y1="257.70" x2="371.00" y2="257.70" stroke="#999" stroke-width="0.7" />
<text transform="translate(366.00,260.70) scale(0.93,1)" font-size="8.5" text-anchor="end">100</text>
<line x1="371.00" y1="351.50" x2="371.00" y2="353.70" stroke="#999" stroke-width="0.7" />
<text transform="translate(371.00,364.20) scale(0.93,1)" font-size="8.5" text-anchor="middle">0</text>
<line x1="407.05" y1="351.50" x2="407.05" y2="353.70" stroke="#999" stroke-width="0.7" />
<text transform="translate(407.05,364.20) scale(0.93,1)" font-size="8.5" text-anchor="middle">10</text>
<line x1="443.10" y1="351.50" x2="443.10" y2="353.70" stroke="#999" stroke-width="0.7" />
<text transform="translate(443.10,364.20) scale(0.93,1)" font-size="8.5" text-anchor="middle">20</text>
<line x1="479.15" y1="351.50" x2="479.15" y2="353.70" stroke="#999" stroke-width="0.7" />
<text transform="translate(479.15,364.20) scale(0.93,1)" font-size="8.5" text-anchor="middle">30</text>
<line x1="515.20" y1="351.50" x2="515.20" y2="353.70" stroke="#999" stroke-width="0.7" />
<text transform="translate(515.20,364.20) scale(0.93,1)" font-size="8.5" text-anchor="middle">40</text>
<circle cx="369.20" cy="257.70" r="2.6" fill="#fff" stroke="#444" stroke-width="0.9"/>
<circle cx="399.84" cy="266.24" r="2.6" fill="#fff" stroke="#444" stroke-width="0.9"/>
<circle cx="403.44" cy="291.84" r="2.6" fill="#fff" stroke="#444" stroke-width="0.9"/>
<circle cx="410.66" cy="300.38" r="2.6" fill="#fff" stroke="#444" stroke-width="0.9"/>
<circle cx="414.26" cy="308.82" r="2.6" fill="#fff" stroke="#444" stroke-width="0.9"/>
<circle cx="417.87" cy="317.36" r="2.6" fill="#fff" stroke="#444" stroke-width="0.9"/>
<circle cx="421.47" cy="325.89" r="2.6" fill="#fff" stroke="#444" stroke-width="0.9"/>
<circle cx="425.08" cy="334.43" r="2.6" fill="#fff" stroke="#444" stroke-width="0.9"/>
<circle cx="428.68" cy="342.96" r="2.6" fill="#fff" stroke="#444" stroke-width="0.9"/>
<circle cx="442.50" cy="351.50" r="2.6" fill="#fff" stroke="#444" stroke-width="0.9"/>
<circle cx="372.80" cy="257.70" r="2.6" fill="#111"/>
<circle cx="414.26" cy="266.24" r="2.6" fill="#111"/>
<circle cx="425.08" cy="300.38" r="2.6" fill="#111"/>
<circle cx="428.68" cy="317.36" r="2.6" fill="#111"/>
<circle cx="432.29" cy="325.89" r="2.6" fill="#111"/>
<circle cx="435.89" cy="334.43" r="2.6" fill="#111"/>
<circle cx="439.50" cy="342.96" r="2.6" fill="#111"/>
<circle cx="445.50" cy="351.50" r="2.6" fill="#111"/>
<text x="462.1" y="264.7" font-size="7.6"><tspan font-style="italic">p</tspan> = 0.01</text>
<text x="462.1" y="273.5" font-size="7.6">(<tspan font-style="italic">p</tspan> = 0.05)</text>
<text x="441.00" y="374.60" font-size="7.4" text-anchor="middle" font-weight="normal" >Days</text>
<text x="0.30" y="421.90" font-size="24" font-weight="bold" style="stroke-width:0.7px">D</text>
<text x="60.60" y="414.10" font-size="10">1 x 10<tspan font-size="6.20" dy="-4.4">7</tspan><tspan dy="4.4"> cells/animal</tspan></text>
<line x1="60.60" y1="415.60" x2="145.20" y2="415.60" stroke="#111" stroke-width="1.0" />
<text x="67.00" y="431.00" font-size="10.1" text-anchor="middle" font-weight="normal" >BALB/c Target</text>
<text x="138.80" y="431.00" font-size="10.25" text-anchor="middle" font-weight="normal" >A/J Target</text>
<polyline points="36.00,523.68 66.30,518.71 97.50,499.60" fill="none" stroke="#111" stroke-width="1.3" stroke-linejoin="miter"/>
<polyline points="36.00,523.68 66.30,518.71 97.50,500.57" fill="none" stroke="#111" stroke-width="1.3" stroke-linejoin="miter"/>
<polyline points="110.00,526.70 139.80,526.70 169.40,524.75" fill="none" stroke="#111" stroke-width="1.3" stroke-linejoin="miter"/>
<polyline points="110.00,526.70 139.80,526.90 169.40,525.92" fill="none" stroke="#111" stroke-width="1.3" stroke-linejoin="miter"/>
<circle cx="36.00" cy="523.68" r="2.15" fill="#fff" stroke="#444" stroke-width="0.75"/>
<circle cx="36.00" cy="524.66" r="2.3" fill="#111"/>
<circle cx="36.00" cy="523.68" r="2.3" fill="#111"/>
<circle cx="36.00" cy="522.71" r="2.3" fill="#111"/>
<circle cx="66.30" cy="518.12" r="2.15" fill="#fff" stroke="#444" stroke-width="0.75"/>
<circle cx="66.30" cy="521.05" r="2.3" fill="#111"/>
<circle cx="66.30" cy="518.12" r="2.3" fill="#111"/>
<circle cx="66.30" cy="514.71" r="2.3" fill="#111"/>
<circle cx="97.50" cy="491.02" r="2.15" fill="#fff" stroke="#444" stroke-width="0.75"/>
<circle cx="97.50" cy="512.76" r="2.15" fill="#fff" stroke="#444" stroke-width="0.75"/>
<circle cx="97.50" cy="493.26" r="2.3" fill="#111"/>
<circle cx="97.50" cy="500.57" r="2.3" fill="#111"/>
<circle cx="97.50" cy="511.69" r="2.3" fill="#111"/>
<circle cx="110.00" cy="524.46" r="2.15" fill="#fff" stroke="#444" stroke-width="0.75"/>
<circle cx="110.00" cy="527.88" r="2.3" fill="#111"/>
<circle cx="110.00" cy="529.34" r="2.3" fill="#111"/>
<circle cx="139.80" cy="526.41" r="2.3" fill="#111"/>
<circle cx="139.80" cy="527.19" r="2.3" fill="#111"/>
<circle cx="169.40" cy="523.98" r="2.15" fill="#fff" stroke="#444" stroke-width="0.75"/>
<circle cx="169.40" cy="519.88" r="2.3" fill="#111"/>
<circle cx="169.40" cy="525.63" r="2.3" fill="#111"/>
<circle cx="169.40" cy="527.19" r="2.3" fill="#111"/>
<line x1="30.00" y1="434.20" x2="30.00" y2="536.80" stroke="#111" stroke-width="1.3" />
<line x1="30.00" y1="536.80" x2="174.60" y2="536.80" stroke="#111" stroke-width="1.3" />
<line x1="30.00" y1="434.20" x2="174.60" y2="434.20" stroke="#111" stroke-width="1.2" />
<line x1="174.60" y1="434.20" x2="174.60" y2="536.80" stroke="#111" stroke-width="1.2" />
<line x1="103.40" y1="434.20" x2="103.40" y2="536.80" stroke="#111" stroke-width="1.2" />
<text transform="translate(24.80,529.90) scale(0.93,1)" font-size="8.5" text-anchor="end">0</text>
<text transform="translate(24.80,510.40) scale(0.93,1)" font-size="8.5" text-anchor="end">20</text>
<text transform="translate(24.80,490.90) scale(0.93,1)" font-size="8.5" text-anchor="end">40</text>
<text transform="translate(24.80,471.40) scale(0.93,1)" font-size="8.5" text-anchor="end">60</text>
<text transform="translate(24.80,451.90) scale(0.93,1)" font-size="8.5" text-anchor="end">80</text>
<text transform="translate(36.50,547.90) scale(0.88,1)" font-size="8.6" text-anchor="middle">2.5:1</text>
<text transform="translate(64.40,547.90) scale(0.88,1)" font-size="8.6" text-anchor="middle">10:1</text>
<text transform="translate(92.80,547.90) scale(0.88,1)" font-size="8.6" text-anchor="middle">40:1</text>
<text transform="translate(111.50,547.90) scale(0.88,1)" font-size="8.6" text-anchor="middle">2.5:1</text>
<text transform="translate(140.00,547.90) scale(0.88,1)" font-size="8.6" text-anchor="middle">10:1</text>
<text transform="translate(168.00,547.90) scale(0.88,1)" font-size="8.6" text-anchor="middle">40:1</text>
<text x="105.10" y="564.60" font-size="7.6" text-anchor="middle" font-weight="normal" >E:T ratio</text>
<text x="0" y="0" font-size="7.7" text-anchor="middle" transform="translate(7.00,488.40) rotate(-90)">% Cytotoxicity</text>
<text x="234.40" y="414.10" font-size="10">3 x 10<tspan font-size="6.20" dy="-4.4">7</tspan><tspan dy="4.4"> cells/animal</tspan></text>
<line x1="234.40" y1="415.60" x2="318.90" y2="415.60" stroke="#111" stroke-width="1.0" />
<text x="238.70" y="431.00" font-size="10.1" text-anchor="middle" font-weight="normal" >BALB/c Target</text>
<text x="310.50" y="431.00" font-size="10.25" text-anchor="middle" font-weight="normal" >A/J Target</text>
<polyline points="207.00,508.57 237.00,483.02 268.00,466.45" fill="none" stroke="#111" stroke-width="1.3" stroke-linejoin="miter"/>
<polyline points="207.00,521.25 237.00,511.69 268.00,486.92" fill="none" stroke="#111" stroke-width="1.3" stroke-linejoin="miter"/>
<polyline points="280.50,523.58 310.60,521.44 340.10,515.69" fill="none" stroke="#111" stroke-width="1.3" stroke-linejoin="miter"/>
<polyline points="280.50,527.19 310.60,534.31 340.10,528.65" fill="none" stroke="#111" stroke-width="1.3" stroke-linejoin="miter"/>
<circle cx="207.00" cy="504.47" r="2.15" fill="#fff" stroke="#444" stroke-width="0.75"/>
<circle cx="207.00" cy="505.84" r="2.15" fill="#fff" stroke="#444" stroke-width="0.75"/>
<circle cx="207.00" cy="514.91" r="2.15" fill="#fff" stroke="#444" stroke-width="0.75"/>
<circle cx="207.00" cy="517.15" r="2.3" fill="#111"/>
<circle cx="207.00" cy="518.71" r="2.3" fill="#111"/>
<circle cx="207.00" cy="520.17" r="2.3" fill="#111"/>
<circle cx="207.00" cy="523.98" r="2.3" fill="#111"/>
<circle cx="237.00" cy="482.05" r="2.15" fill="#fff" stroke="#444" stroke-width="0.75"/>
<circle cx="237.00" cy="482.25" r="2.15" fill="#fff" stroke="#444" stroke-width="0.75"/>
<circle cx="237.00" cy="491.80" r="2.15" fill="#fff" stroke="#444" stroke-width="0.75"/>
<circle cx="237.00" cy="507.40" r="2.3" fill="#111"/>
<circle cx="237.00" cy="509.35" r="2.3" fill="#111"/>
<circle cx="237.00" cy="510.71" r="2.3" fill="#111"/>
<circle cx="237.00" cy="517.15" r="2.3" fill="#111"/>
<circle cx="268.00" cy="460.89" r="2.15" fill="#fff" stroke="#444" stroke-width="0.75"/>
<circle cx="268.00" cy="466.45" r="2.15" fill="#fff" stroke="#444" stroke-width="0.75"/>
<circle cx="268.00" cy="469.38" r="2.15" fill="#fff" stroke="#444" stroke-width="0.75"/>
<circle cx="268.00" cy="478.54" r="2.3" fill="#111"/>
<circle cx="268.00" cy="480.10" r="2.3" fill="#111"/>
<circle cx="268.00" cy="501.16" r="2.3" fill="#111"/>
<circle cx="280.50" cy="522.51" r="2.15" fill="#fff" stroke="#444" stroke-width="0.75"/>
<circle cx="280.50" cy="523.78" r="2.3" fill="#111"/>
<circle cx="280.50" cy="525.14" r="2.3" fill="#111"/>
<circle cx="280.50" cy="526.41" r="2.3" fill="#111"/>
<circle cx="280.50" cy="534.41" r="2.3" fill="#111"/>
<circle cx="310.60" cy="518.12" r="2.15" fill="#fff" stroke="#444" stroke-width="0.75"/>
<circle cx="310.60" cy="519.39" r="2.15" fill="#fff" stroke="#444" stroke-width="0.75"/>
<circle cx="310.60" cy="522.02" r="2.3" fill="#111"/>
<circle cx="310.60" cy="523.49" r="2.3" fill="#111"/>
<circle cx="310.60" cy="524.95" r="2.3" fill="#111"/>
<circle cx="310.60" cy="536.45" r="2.3" fill="#111"/>
<circle cx="340.10" cy="508.96" r="2.15" fill="#fff" stroke="#444" stroke-width="0.75"/>
<circle cx="340.10" cy="512.37" r="2.15" fill="#fff" stroke="#444" stroke-width="0.75"/>
<circle cx="340.10" cy="516.86" r="2.3" fill="#111"/>
<circle cx="340.10" cy="517.93" r="2.3" fill="#111"/>
<circle cx="340.10" cy="536.85" r="2.3" fill="#111"/>
<line x1="201.00" y1="434.20" x2="201.00" y2="536.80" stroke="#111" stroke-width="1.3" />
<line x1="201.00" y1="536.80" x2="344.80" y2="536.80" stroke="#111" stroke-width="1.3" />
<line x1="201.00" y1="434.20" x2="344.80" y2="434.20" stroke="#111" stroke-width="1.2" />
<line x1="344.80" y1="434.20" x2="344.80" y2="536.80" stroke="#111" stroke-width="1.2" />
<line x1="273.60" y1="434.20" x2="273.60" y2="536.80" stroke="#111" stroke-width="1.2" />
<text transform="translate(195.80,529.90) scale(0.93,1)" font-size="8.5" text-anchor="end">0</text>
<text transform="translate(195.80,510.40) scale(0.93,1)" font-size="8.5" text-anchor="end">20</text>
<text transform="translate(195.80,490.90) scale(0.93,1)" font-size="8.5" text-anchor="end">40</text>
<text transform="translate(195.80,471.40) scale(0.93,1)" font-size="8.5" text-anchor="end">60</text>
<text transform="translate(195.80,451.90) scale(0.93,1)" font-size="8.5" text-anchor="end">80</text>
<text transform="translate(207.00,547.90) scale(0.88,1)" font-size="8.6" text-anchor="middle">2.5:1</text>
<text transform="translate(235.00,547.90) scale(0.88,1)" font-size="8.6" text-anchor="middle">10:1</text>
<text transform="translate(263.50,547.90) scale(0.88,1)" font-size="8.6" text-anchor="middle">40:1</text>
<text transform="translate(282.50,547.90) scale(0.88,1)" font-size="8.6" text-anchor="middle">2.5:1</text>
<text transform="translate(310.80,547.90) scale(0.88,1)" font-size="8.6" text-anchor="middle">10:1</text>
<text transform="translate(337.30,547.90) scale(0.88,1)" font-size="8.6" text-anchor="middle">40:1</text>
<text x="275.00" y="564.60" font-size="7.6" text-anchor="middle" font-weight="normal" >E:T ratio</text>
<polygon points="206.90,494.85 207.55,496.31 209.13,496.47 207.95,497.54 208.28,499.10 206.90,498.30 205.52,499.10 205.85,497.54 204.67,496.47 206.25,496.31" fill="#111" stroke="#111" stroke-width="0.45"/>
<polygon points="235.20,471.25 235.85,472.71 237.43,472.87 236.25,473.94 236.58,475.50 235.20,474.70 233.82,475.50 234.15,473.94 232.97,472.87 234.55,472.71" fill="#111" stroke="#111" stroke-width="0.45"/>
<polygon points="240.30,471.25 240.95,472.71 242.53,472.87 241.35,473.94 241.68,475.50 240.30,474.70 238.92,475.50 239.25,473.94 238.07,472.87 239.65,472.71" fill="#111" stroke="#111" stroke-width="0.45"/>
<polygon points="268.00,450.25 268.65,451.71 270.23,451.87 269.05,452.94 269.38,454.50 268.00,453.70 266.62,454.50 266.95,452.94 265.77,451.87 267.35,451.71" fill="#111" stroke="#111" stroke-width="0.45"/>
<text x="404.00" y="414.10" font-size="10">1 x 10<tspan font-size="6.20" dy="-4.4">8</tspan><tspan dy="4.4"> cells/animal</tspan></text>
<line x1="404.00" y1="415.60" x2="488.30" y2="415.60" stroke="#111" stroke-width="1.0" />
<text x="410.40" y="431.00" font-size="10.1" text-anchor="middle" font-weight="normal" >BALB/c Target</text>
<text x="481.70" y="431.00" font-size="10.25" text-anchor="middle" font-weight="normal" >A/J Target</text>
<polyline points="378.00,501.16 408.30,489.07 438.40,459.82" fill="none" stroke="#111" stroke-width="1.3" stroke-linejoin="miter"/>
<polyline points="378.00,513.93 408.30,502.23 438.40,492.00" fill="none" stroke="#111" stroke-width="1.3" stroke-linejoin="miter"/>
<polyline points="450.50,524.95 480.60,524.95 510.10,524.95" fill="none" stroke="#111" stroke-width="1.3" stroke-linejoin="miter"/>
<polyline points="450.50,527.00 480.60,529.34 510.10,528.36" fill="none" stroke="#111" stroke-width="1.3" stroke-linejoin="miter"/>
<circle cx="378.00" cy="498.62" r="2.15" fill="#fff" stroke="#444" stroke-width="0.75"/>
<circle cx="378.00" cy="501.16" r="2.15" fill="#fff" stroke="#444" stroke-width="0.75"/>
<circle cx="378.00" cy="504.47" r="2.15" fill="#fff" stroke="#444" stroke-width="0.75"/>
<circle cx="378.00" cy="512.27" r="2.3" fill="#111"/>
<circle cx="378.00" cy="513.93" r="2.3" fill="#111"/>
<circle cx="378.00" cy="515.30" r="2.3" fill="#111"/>
<circle cx="408.30" cy="479.12" r="2.15" fill="#fff" stroke="#444" stroke-width="0.75"/>
<circle cx="408.30" cy="492.77" r="2.15" fill="#fff" stroke="#444" stroke-width="0.75"/>
<circle cx="408.30" cy="494.24" r="2.15" fill="#fff" stroke="#444" stroke-width="0.75"/>
<circle cx="408.30" cy="498.62" r="2.3" fill="#111"/>
<circle cx="408.30" cy="502.23" r="2.3" fill="#111"/>
<circle cx="408.30" cy="504.28" r="2.3" fill="#111"/>
<circle cx="438.40" cy="441.20" r="2.15" fill="#fff" stroke="#444" stroke-width="0.75"/>
<circle cx="438.40" cy="465.18" r="2.15" fill="#fff" stroke="#444" stroke-width="0.75"/>
<circle cx="438.40" cy="471.91" r="2.15" fill="#fff" stroke="#444" stroke-width="0.75"/>
<circle cx="438.40" cy="484.19" r="2.3" fill="#111"/>
<circle cx="438.40" cy="486.34" r="2.3" fill="#111"/>
<circle cx="438.40" cy="504.28" r="2.3" fill="#111"/>
<circle cx="450.50" cy="524.46" r="2.15" fill="#fff" stroke="#444" stroke-width="0.75"/>
<circle cx="450.50" cy="524.95" r="2.3" fill="#111"/>
<circle cx="450.50" cy="526.90" r="2.3" fill="#111"/>
<circle cx="450.50" cy="528.85" r="2.3" fill="#111"/>
<circle cx="480.60" cy="523.49" r="2.15" fill="#fff" stroke="#444" stroke-width="0.75"/>
<circle cx="480.60" cy="526.90" r="2.3" fill="#111"/>
<circle cx="480.60" cy="529.82" r="2.3" fill="#111"/>
<circle cx="480.60" cy="531.77" r="2.3" fill="#111"/>
<circle cx="510.10" cy="524.46" r="2.15" fill="#fff" stroke="#444" stroke-width="0.75"/>
<circle cx="510.10" cy="525.92" r="2.3" fill="#111"/>
<circle cx="510.10" cy="527.88" r="2.3" fill="#111"/>
<circle cx="510.10" cy="529.82" r="2.3" fill="#111"/>
<line x1="371.80" y1="434.20" x2="371.80" y2="536.80" stroke="#111" stroke-width="1.3" />
<line x1="371.80" y1="536.80" x2="516.00" y2="536.80" stroke="#111" stroke-width="1.3" />
<line x1="371.80" y1="434.20" x2="516.00" y2="434.20" stroke="#111" stroke-width="1.2" />
<line x1="516.00" y1="434.20" x2="516.00" y2="536.80" stroke="#111" stroke-width="1.2" />
<line x1="444.50" y1="434.20" x2="444.50" y2="536.80" stroke="#111" stroke-width="1.2" />
<text transform="translate(366.60,529.90) scale(0.93,1)" font-size="8.5" text-anchor="end">0</text>
<text transform="translate(366.60,510.40) scale(0.93,1)" font-size="8.5" text-anchor="end">20</text>
<text transform="translate(366.60,490.90) scale(0.93,1)" font-size="8.5" text-anchor="end">40</text>
<text transform="translate(366.60,471.40) scale(0.93,1)" font-size="8.5" text-anchor="end">60</text>
<text transform="translate(366.60,451.90) scale(0.93,1)" font-size="8.5" text-anchor="end">80</text>
<text transform="translate(378.60,547.90) scale(0.88,1)" font-size="8.6" text-anchor="middle">2.5:1</text>
<text transform="translate(406.30,547.90) scale(0.88,1)" font-size="8.6" text-anchor="middle">10:1</text>
<text transform="translate(435.40,547.90) scale(0.88,1)" font-size="8.6" text-anchor="middle">40:1</text>
<text transform="translate(453.70,547.90) scale(0.88,1)" font-size="8.6" text-anchor="middle">2.5:1</text>
<text transform="translate(482.40,547.90) scale(0.88,1)" font-size="8.6" text-anchor="middle">10:1</text>
<text transform="translate(510.60,547.90) scale(0.88,1)" font-size="8.6" text-anchor="middle">40:1</text>
<text x="447.00" y="564.60" font-size="7.6" text-anchor="middle" font-weight="normal" >E:T ratio</text>
<polygon points="375.20,488.35 375.85,489.81 377.43,489.97 376.25,491.04 376.58,492.60 375.20,491.80 373.82,492.60 374.15,491.04 372.97,489.97 374.55,489.81" fill="#111" stroke="#111" stroke-width="0.45"/>
<polygon points="379.90,488.45 380.55,489.91 382.13,490.07 380.95,491.14 381.28,492.70 379.90,491.90 378.52,492.70 378.85,491.14 377.67,490.07 379.25,489.91" fill="#111" stroke="#111" stroke-width="0.45"/>
<polygon points="438.40,452.65 439.05,454.11 440.63,454.27 439.45,455.34 439.78,456.90 438.40,456.10 437.02,456.90 437.35,455.34 436.17,454.27 437.75,454.11" fill="#111" stroke="#111" stroke-width="0.45"/>
</g></svg>
</body></html>
